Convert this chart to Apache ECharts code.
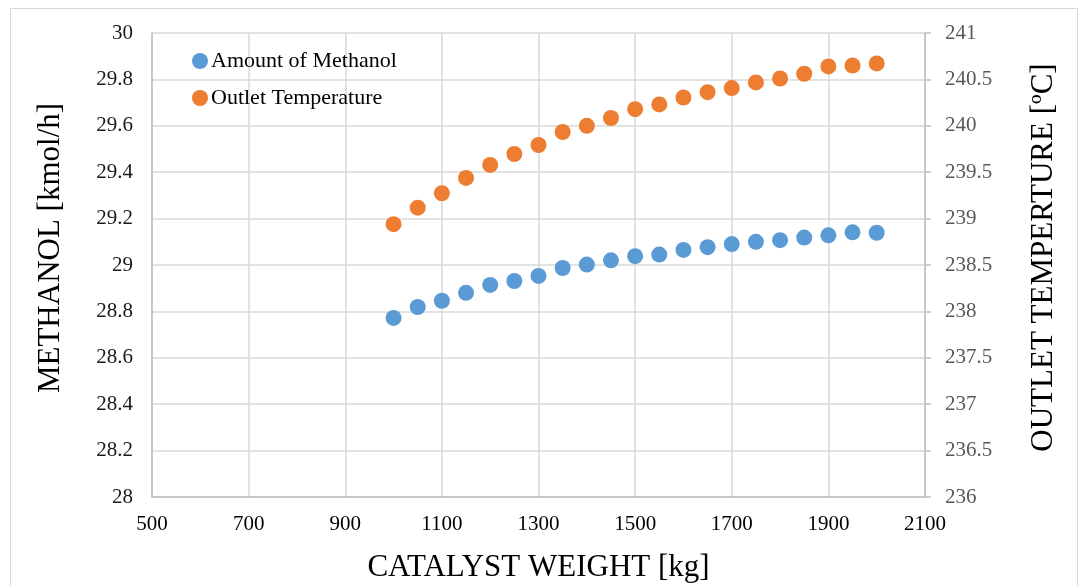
<!DOCTYPE html>
<html>
<head>
<meta charset="utf-8">
<script src="https://cdn.jsdelivr.net/npm/echarts@6/dist/echarts.min.js"></script>
<style>
html,body{margin:0;padding:0;background:#fff;}
#c{width:1078px;height:586px;}
</style>
</head>
<body>
<div id="c"></div>
<script>
const catalystWeight = [1000,1050,1100,1150,1200,1250,1300,1350,1400,1450,1500,1550,1600,1650,1700,1750,1800,1850,1900,1950,2000];
const methanol = [28.772,28.819,28.846,28.880,28.914,28.931,28.953,28.987,29.002,29.020,29.038,29.045,29.065,29.077,29.090,29.100,29.107,29.118,29.128,29.141,29.139];
const outletTemp = [238.940,239.118,239.273,239.438,239.578,239.696,239.793,239.933,240.000,240.084,240.179,240.230,240.305,240.362,240.406,240.467,240.510,240.561,240.640,240.650,240.672];
const seriesNames = ['Amount of Methanol','Outlet Temperature'];
const xTitle = 'CATALYST WEIGHT [kg]';
const yLeftTitle = 'METHANOL [kmol/h]';
const yRightTitle = 'OUTLET TEMPERTURE [ºC]';

const font = '"Liberation Serif","Times New Roman",serif';
const chart = echarts.init(document.getElementById('c'));
chart.setOption({
  animation:false,
  backgroundColor:'#fff',
  textStyle:{fontFamily:font},
  graphic:[{type:'rect',shape:{x:10.5,y:8.5,width:1067,height:580},style:{fill:'none',stroke:'#d9d9d9',lineWidth:1},silent:true,z:-10}],
  legend:{
    orient:'vertical',left:187,top:45,itemGap:15,
    itemWidth:16,itemHeight:16,icon:'circle',
    textStyle:{fontFamily:font,fontSize:22,color:'#000',padding:[0,0,0,-2]},
    data:seriesNames
  },
  grid:{left:152,right:153,top:33,bottom:89,containLabel:false,outerBoundsMode:'none'},
  xAxis:{
    type:'value',min:500,max:2100,interval:200,
    name:xTitle,nameLocation:'middle',nameGap:55,
    nameTextStyle:{fontFamily:font,fontSize:31,color:'#000'},
    axisLine:{show:true,lineStyle:{color:'#bfbfbf',width:1.5}},
    axisTick:{show:false},
    axisLabel:{fontFamily:font,fontSize:21,color:'#000',margin:17,formatter:v=>String(v)},
    splitLine:{show:true,lineStyle:{color:'#d9d9d9',width:1.5}}
  },
  yAxis:[{
    type:'value',min:28,max:30,interval:0.2,position:'left',
    name:yLeftTitle,nameLocation:'middle',nameGap:86,nameRotate:90,
    nameTextStyle:{fontFamily:font,fontSize:31,color:'#000',padding:[0,0,0,34]},
    axisLine:{show:true,lineStyle:{color:'#bfbfbf',width:1.5}},
    axisTick:{show:false},
    axisLabel:{fontFamily:font,fontSize:21,color:'#1a1a1a',margin:19,formatter:v=>String(+v.toFixed(1))},
    splitLine:{show:true,lineStyle:{color:'#d9d9d9',width:1.5}}
  },{
    type:'value',min:236,max:241,interval:0.5,position:'right',
    name:yRightTitle,nameLocation:'middle',nameGap:103,nameRotate:90,
    nameTextStyle:{fontFamily:font,fontSize:31,color:'#000',padding:[0,0,0,15]},
    axisLine:{show:true,lineStyle:{color:'#bfbfbf',width:1.5}},
    axisTick:{show:true,length:6,inside:false,lineStyle:{color:'#bfbfbf',width:1.5}},
    axisLabel:{fontFamily:font,fontSize:21,color:'#595959',margin:20,formatter:v=>String(+v.toFixed(1))},
    splitLine:{show:false}
  }],
  series:[{
    name:seriesNames[0],type:'scatter',yAxisIndex:0,symbolSize:16,
    itemStyle:{color:'#5b9bd5',opacity:1},
    data:catalystWeight.map((x,i)=>[x,methanol[i]])
  },{
    name:seriesNames[1],type:'scatter',yAxisIndex:1,symbolSize:16,
    itemStyle:{color:'#ed7d31',opacity:1},
    data:catalystWeight.map((x,i)=>[x,outletTemp[i]])
  }]
});
</script>
</body>
</html>
